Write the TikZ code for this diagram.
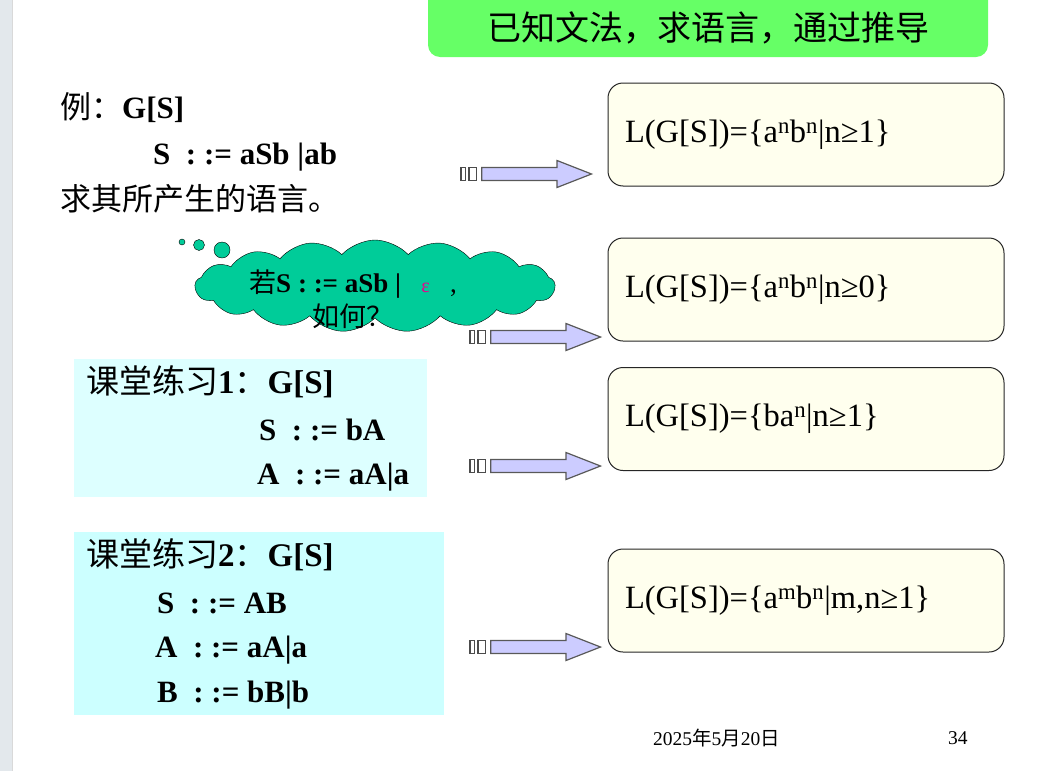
\documentclass[tikz,border=0pt]{standalone}
\usepackage{fontspec}
\setmainfont{Liberation Serif}
\newfontfamily\cjk{Noto Sans CJK SC}
\usetikzlibrary{shapes.symbols}
\definecolor{titlegreen}{HTML}{66FF66}
\definecolor{cloudgreen}{HTML}{00CC99}
\definecolor{boxyellow}{HTML}{FFFFEE}
\definecolor{arrowblue}{HTML}{CCCCFF}
\definecolor{exone}{HTML}{DDFFFF}
\definecolor{extwo}{HTML}{CCFFFF}
\definecolor{stripgray}{HTML}{E3E8EC}
\newcommand{\fsz}[1]{\fontsize{#1}{#1}\selectfont}
\begin{document}
\begin{tikzpicture}[x=1pt,y=-1pt,
  lang/.style={draw=black!85, line width=1pt, fill=boxyellow, rounded corners=15pt, minimum width=396pt, minimum height=103pt, text width=362pt, inner xsep=17pt, align=left, font=\fsz{32.5}},
  txt/.style={anchor=west, inner sep=0pt, font=\fsz{31}},
  tab/.style={draw=black!70, line width=1.2pt, fill=white, minimum width=#1, minimum height=13pt, inner sep=0pt},
  arr/.style={draw=black!65, line width=1.2pt, fill=arrowblue}]
\useasboundingbox (0,0) rectangle (1040,771);
\fill[stripgray] (0,0) rectangle (12,771);
\draw[black!15] (12,0) -- (12,771);
% title
\node (title) [fill=titlegreen, rounded corners=12pt, minimum width=560pt, minimum height=70pt] at (708,22) {};
\node (titletext) [font=\cjk\fsz{34}, inner sep=0pt] at (708.5,28) {已知文法，求语言，通过推导};
% example
\node (ex) [txt] at (60,108) {{\cjk 例：}\textbf{G[S]}};
\node (exs) [txt] at (153,157) {\textbf{S\ \ : := aSb |ab}};
\node (exq) [txt] at (60,199) {\cjk 求其所产生的语言。};
% results
\node (la) [lang] at (806,134.5) {L(G[S])=\{a\textsuperscript{n}b\textsuperscript{n}|n≥1\}};
\node (lb) [lang] at (806,289.5) {L(G[S])=\{a\textsuperscript{n}b\textsuperscript{n}|n≥0\}};
\node (lc) [lang] at (806,419) {L(G[S])=\{ba\textsuperscript{n}|n≥1\}};
\node (ld) [lang] at (806,600.5) {L(G[S])=\{a\textsuperscript{m}b\textsuperscript{n}|m,n≥1\}};
% cloud
\node (cloud) [cloud, cloud puffs=17, cloud puff arc=95, aspect=3.75, draw, fill=cloudgreen, minimum width=360pt, minimum height=92pt] at (375,286) {};
\node (bubblea) [circle, draw, fill=cloudgreen, minimum size=6pt, inner sep=0pt] at (182,242) {};
\node (bubbleb) [circle, draw, fill=cloudgreen, minimum size=11pt, inner sep=0pt] at (199,245) {};
\node (bubblec) [circle, draw, fill=cloudgreen, minimum size=16pt, inner sep=0pt] at (222,250) {};
\node (ask) [inner sep=0pt, align=center, font=\fsz{27}] at (353,299) {{\cjk 若}\textbf{S\ : := aSb |}\ \ \ {\color{magenta}\fsz{20}ε}\ \ \ ,\\[5pt]{\cjk 如何？}};
% exercises
\node (exa) [fill=exone, minimum width=353pt, minimum height=138pt, inner sep=0pt] at (250.5,428) {};
\node (exat) [txt, font=\fsz{33}] at (86,382) {{\cjk 课堂练习}\textbf{1}{\cjk ：}\textbf{G[S]}};
\node (exas) [txt, font=\fsz{31}] at (259,430) {\textbf{S\ \ : := bA}};
\node (exaa) [txt, font=\fsz{31}] at (257,477) {\textbf{A\ \ : := aA|a}};
\node (exb) [fill=extwo, minimum width=370pt, minimum height=183pt, inner sep=0pt] at (259,623.5) {};
\node (exbt) [txt, font=\fsz{33}] at (86,555) {{\cjk 课堂练习}\textbf{2}{\cjk ：}\textbf{G[S]}};
\node (exbs) [txt, font=\fsz{31}] at (157,603) {\textbf{S\ \ : := AB}};
\node (exba) [txt, font=\fsz{31}] at (155,650) {\textbf{A\ \ : := aA|a}};
\node (exbb) [txt, font=\fsz{31}] at (157,695) {\textbf{B\ \ : := bB|b}};
% arrows
\foreach \i/\x/\y in {1/461/174,2/470/337,3/470/466,4/470/647}{
  \node (ta\i) [tab=4.5pt] at (\x+2.25,\y) {};
  \node (tb\i) [tab=7.7pt] at (\x+11.85,\y) {};
  \draw[arr] (\x+20.7,\y-6.5) -- (\x+96,\y-6.5) -- (\x+96,\y-13.5) -- (\x+130.5,\y)
    -- (\x+96,\y+13.5) -- (\x+96,\y+6.5) -- (\x+20.7,\y+6.5) -- cycle;
}
% footer
\node (date) [anchor=west, inner sep=0pt, font=\fsz{19.5}] at (653,738) {2025{\cjk 年}5{\cjk 月}20{\cjk 日}};
\node (page) [anchor=west, inner sep=0pt, font=\fsz{19.5}] at (948,738) {34};
\end{tikzpicture}
\end{document}
